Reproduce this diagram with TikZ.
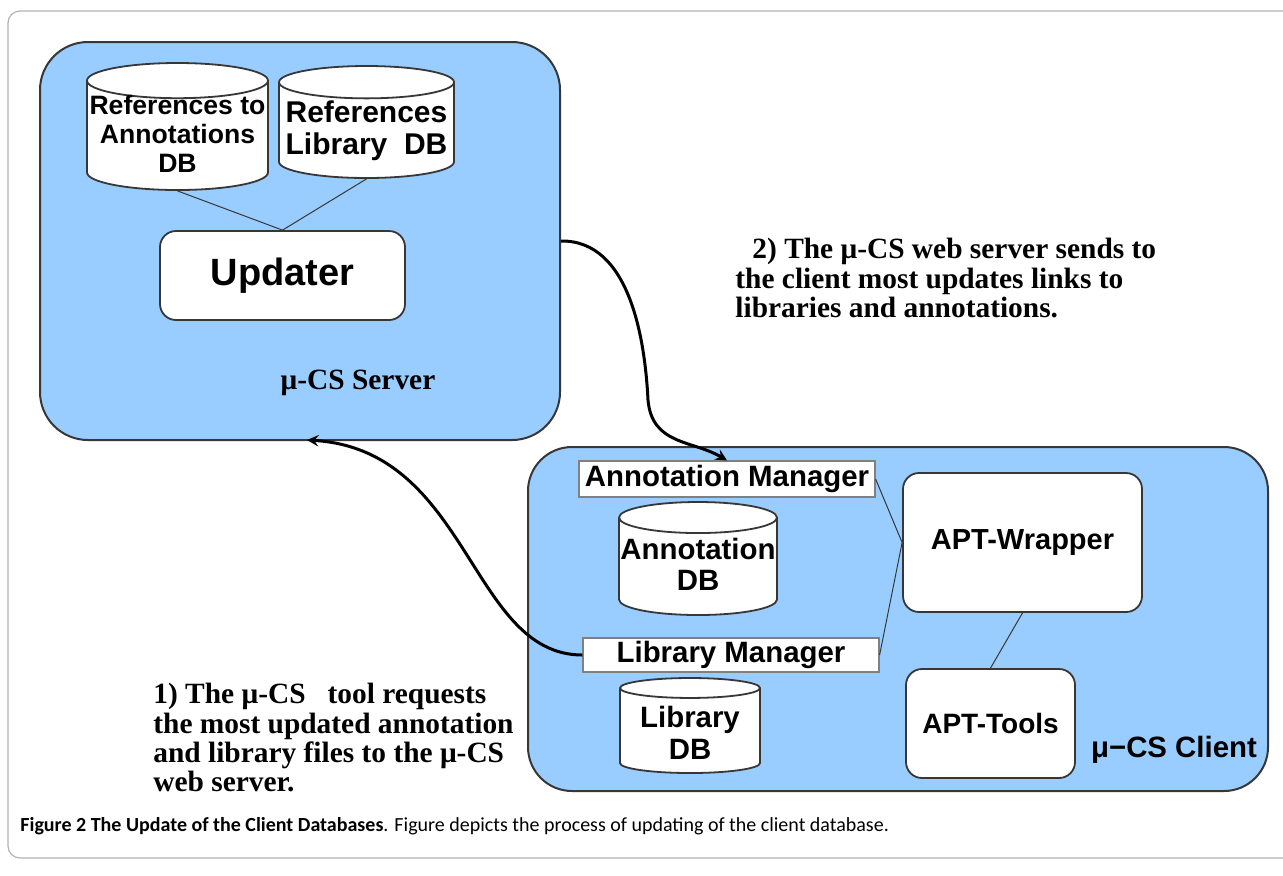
\documentclass[tikz,border=0pt]{standalone}
\usepackage{fontspec}
\setmainfont{Liberation Serif}
\setsansfont{Liberation Sans}
\newfontfamily\capfont{Carlito}
\usepackage{tikz}
\usetikzlibrary{shapes.geometric}
\definecolor{boxblue}{RGB}{153,204,255}
\definecolor{edgegray}{RGB}{55,55,55}
\newcommand{\fsz}[1]{\fontsize{#1}{#1}\selectfont}
% text of a database drum, kept from growing the drum
\newcommand{\dblabel}[2][-4.5pt]{\smash{\raisebox{#1}{\setlength{\tabcolsep}{0pt}\begin{tabular}{c}#2\end{tabular}}}}

\begin{document}
\begin{tikzpicture}[x=0.5pt,y=-0.5pt,
	panel/.style={rectangle,draw=edgegray,line width=1pt,fill=boxblue,rounded corners=24pt},
	db/.style={cylinder,shape border rotate=90,anchor=shape center,draw=edgegray,line width=0.9pt,fill=white,aspect=0.2,inner sep=0pt,font=\sffamily\bfseries},
	unit/.style={rectangle,draw=edgegray,line width=0.9pt,fill=white,rounded corners=8pt,font=\sffamily\bfseries},
	mgr/.style={rectangle,draw=gray,line width=0.6pt,fill=white,inner sep=0pt,font=\sffamily\bfseries\fsz{14.7}},
	note/.style={align=left,inner sep=0pt,font=\rmfamily\bfseries\fontsize{14.7}{14.6}\selectfont},
	link/.style={draw=edgegray,line width=0.5pt},
	flow/.style={->,>=stealth,line width=1.5pt}]
	\useasboundingbox (0,0) rectangle (1283,875);
	\draw[gray!60,line width=0.6pt,rounded corners=6pt] (8,11) rectangle (1300,858);

	% server side
	\node[panel,minimum width=260pt,minimum height=199pt] (server) at (300,241) {};
	\node[db,minimum width=90.5pt,minimum height=63.5pt,font=\sffamily\bfseries\fontsize{13.3}{14.5}\selectfont] (refAnn) at (177.5,126.5) {\dblabel{References to\\Annotations\\DB}};
	\node[db,minimum width=87.5pt,minimum height=56pt,font=\sffamily\bfseries\fontsize{15}{16}\selectfont] (refLib) at (366.5,122) {\dblabel{References\\Library\ \ DB}};
	\node[unit,minimum width=122.5pt,minimum height=44.5pt,font=\sffamily\bfseries\fsz{19}] (updater) at (282.5,275.5) {Updater};
	\node[font=\rmfamily\bfseries\fsz{14.7}] (serverLbl) at (358,383) {μ-CS Server};

	\draw[link] (refAnn.south) -- (updater.north);
	\draw[link] (refLib.south) -- (updater.north);

	% client side
	\node[panel,rounded corners=22pt,minimum width=370pt,minimum height=172pt] (client) at (898,619) {};
	\node[mgr,minimum width=148pt,minimum height=18pt] (annMgr) at (727,479) {Annotation Manager};
	\node[db,minimum width=79pt,minimum height=56.5pt,font=\sffamily\bfseries\fontsize{14.7}{15.5}\selectfont] (annDB) at (698,558.5) {\dblabel{Annotation\\DB}};
	\node[mgr,minimum width=148pt,minimum height=17pt] (libMgr) at (731,655) {Library Manager};
	\node[db,minimum width=70pt,minimum height=47.5pt,font=\sffamily\bfseries\fontsize{14.7}{16}\selectfont] (libDB) at (690,725.5) {\dblabel[-6.5pt]{Library\\DB}};
	\node[unit,minimum width=119.5pt,minimum height=69.5pt,font=\sffamily\bfseries\fsz{14.5}] (wrapper) at (1022.5,542.5) {APT-Wrapper};
	\node[unit,minimum width=84.5pt,minimum height=54.5pt,font=\sffamily\bfseries\fsz{14}] (tools) at (990.5,723.5) {APT-Tools};
	\node[font=\sffamily\bfseries\fsz{14.7}] (clientLbl) at (1174,750) {μ−CS Client};

	\draw[link] (annMgr.east) -- (wrapper.west);
	\draw[link] (libMgr.east) -- (wrapper.west);
	\draw[link] (wrapper.south) -- (tools.north);

	% requests and replies
	\coordinate (reqEnd) at (307,440);
	\draw[flow] (server.east) .. controls (630,240) and (645,340) .. (648,400) .. controls (652,445) and (692,440) .. (annMgr.north);
	\draw[flow] (libMgr.west) .. controls (470,655) and (470,450) .. (reqEnd);

	\node[note,anchor=north west] (replyNote) at (735,238) {\hspace*{8.5pt}2) The μ-CS web server sends to\\the client most updates links to\\libraries and annotations.};
	\node[note,anchor=north west] (requestNote) at (153,683) {1) The μ-CS\ \ \ tool requests\\the most updated annotation\\and library files to the μ-CS\\web server.};

	% caption
	\node[anchor=west,inner sep=0pt,font=\capfont\fsz{10}] (caption) at (20,826) {\textbf{Figure 2 The Update of the Client Databases}. Figure depicts the process of updating of the client database.};
\end{tikzpicture}
\end{document}
